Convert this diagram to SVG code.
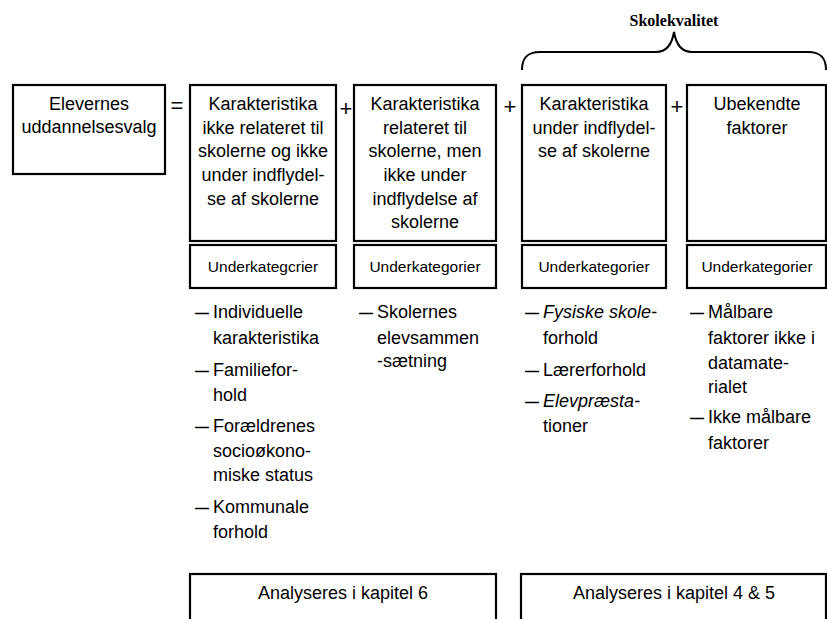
<svg xmlns="http://www.w3.org/2000/svg" width="827" height="619" viewBox="0 0 827 619">
<style>
.box{fill:#fff;stroke:#000;stroke-width:2.2}
.t{font-family:"Liberation Sans",Arial,sans-serif;font-size:18px;fill:#000}
.c{text-anchor:middle}
.s{font-family:"Liberation Sans",Arial,sans-serif;font-size:15.5px;fill:#000;text-anchor:middle}
.d{font-family:"Liberation Sans",Arial,sans-serif;font-size:14px;font-weight:bold;fill:#000}
.op{font-family:"Liberation Sans",Arial,sans-serif;font-size:22px;fill:#000;text-anchor:middle}
.i{font-style:italic}
.serif{font-family:"Liberation Serif","Times New Roman",serif;font-size:16px;font-weight:bold;text-anchor:middle}
</style>
<rect width="827" height="619" fill="#fff"/>

<g id="brace">
<path d="M522,70 C522,58 527,52 540,52 L656,52 C667,52 672,44 674,32 C676,44 681,52 692,52 L808,52 C821,52 826,58 826,70" fill="none" stroke="#000" stroke-width="2"/>
<text class="serif" x="674" y="26">Skolekvalitet</text>
</g>

<g id="n-elevernes">
<rect class="box" x="13" y="85" width="152" height="89"/>
<text class="t c" x="89" y="110">Elevernes</text>
<text class="t c" x="89" y="133">uddannelsesvalg</text>
</g>

<g id="ops">
<text class="op" x="177" y="113">=</text>
<text class="op" x="346" y="116">+</text>
<text class="op" x="510" y="114">+</text>
<text class="op" x="677" y="114">+</text>
</g>

<g id="n-ikke-relateret">
<rect class="box" x="190" y="85" width="146" height="156"/>
<text class="t c" x="263" y="110">Karakteristika</text>
<text class="t c" x="263" y="133.5">ikke relateret til</text>
<text class="t c" x="263" y="157">skolerne og ikke</text>
<text class="t c" x="263" y="181">under indflydel-</text>
<text class="t c" x="263" y="204.5">se af skolerne</text>
<rect class="box" x="190" y="245" width="146" height="43"/>
<text class="s" x="263" y="272">Underkategcrier</text>
</g>

<g id="n-relateret">
<rect class="box" x="354" y="85" width="142" height="156"/>
<text class="t c" x="425" y="110">Karakteristika</text>
<text class="t c" x="425" y="133.5">relateret til</text>
<text class="t c" x="425" y="157">skolerne, men</text>
<text class="t c" x="425" y="181">ikke under</text>
<text class="t c" x="425" y="204.5">indflydelse af</text>
<text class="t c" x="425" y="228">skolerne</text>
<rect class="box" x="354" y="245" width="142" height="43"/>
<text class="s" x="425" y="272">Underkategorier</text>
</g>

<g id="n-under-indflydelse">
<rect class="box" x="522" y="85" width="144" height="156"/>
<text class="t c" x="594" y="110">Karakteristika</text>
<text class="t c" x="594" y="133.5">under indflydel-</text>
<text class="t c" x="594" y="157">se af skolerne</text>
<rect class="box" x="522" y="245" width="144" height="43"/>
<text class="s" x="594" y="272">Underkategorier</text>
</g>

<g id="n-ubekendte">
<rect class="box" x="687" y="85" width="139" height="156"/>
<text class="t c" x="757" y="110">Ubekendte</text>
<text class="t c" x="757" y="133.5">faktorer</text>
<rect class="box" x="687" y="245" width="139" height="43"/>
<text class="s" x="757" y="272">Underkategorier</text>
</g>

<g id="list1">
<text class="d" x="195" y="318">—</text>
<text class="t" x="213" y="318">Individuelle</text>
<text class="t" x="213" y="344">karakteristika</text>
<text class="d" x="195" y="376">—</text>
<text class="t" x="213" y="376">Familiefor-</text>
<text class="t" x="213" y="401">hold</text>
<text class="d" x="195" y="432">—</text>
<text class="t" x="213" y="432">Forældrenes</text>
<text class="t" x="213" y="457">socioøkono-</text>
<text class="t" x="213" y="481">miske status</text>
<text class="d" x="195" y="513">—</text>
<text class="t" x="213" y="513">Kommunale</text>
<text class="t" x="213" y="538">forhold</text>
</g>

<g id="list2">
<text class="d" x="359" y="318">—</text>
<text class="t" x="377" y="318">Skolernes</text>
<text class="t" x="377" y="344">elevsammen</text>
<text class="t" x="377" y="367">-sætning</text>
</g>

<g id="list3">
<text class="d" x="525" y="318">—</text>
<text class="t i" x="543" y="318">Fysiske skole-</text>
<text class="t" x="543" y="344">forhold</text>
<text class="d" x="525" y="376">—</text>
<text class="t" x="543" y="376">Lærerforhold</text>
<text class="d" x="525" y="407">—</text>
<text class="t i" x="543" y="407">Elevpræsta-</text>
<text class="t" x="543" y="432">tioner</text>
</g>

<g id="list4">
<text class="d" x="690" y="318">—</text>
<text class="t" x="708" y="318">Målbare</text>
<text class="t" x="708" y="344">faktorer ikke i</text>
<text class="t" x="708" y="369">datamate-</text>
<text class="t" x="708" y="393">rialet</text>
<text class="d" x="690" y="423">—</text>
<text class="t" x="708" y="423">Ikke målbare</text>
<text class="t" x="708" y="449">faktorer</text>
</g>

<g id="n-kapitel6">
<rect class="box" x="190" y="574" width="306" height="60"/>
<text class="t c" x="343" y="599">Analyseres i kapitel 6</text>
</g>

<g id="n-kapitel45">
<rect class="box" x="521" y="574" width="305" height="60"/>
<text class="t c" x="674" y="599">Analyseres i kapitel 4 &amp; 5</text>
</g>
</svg>
